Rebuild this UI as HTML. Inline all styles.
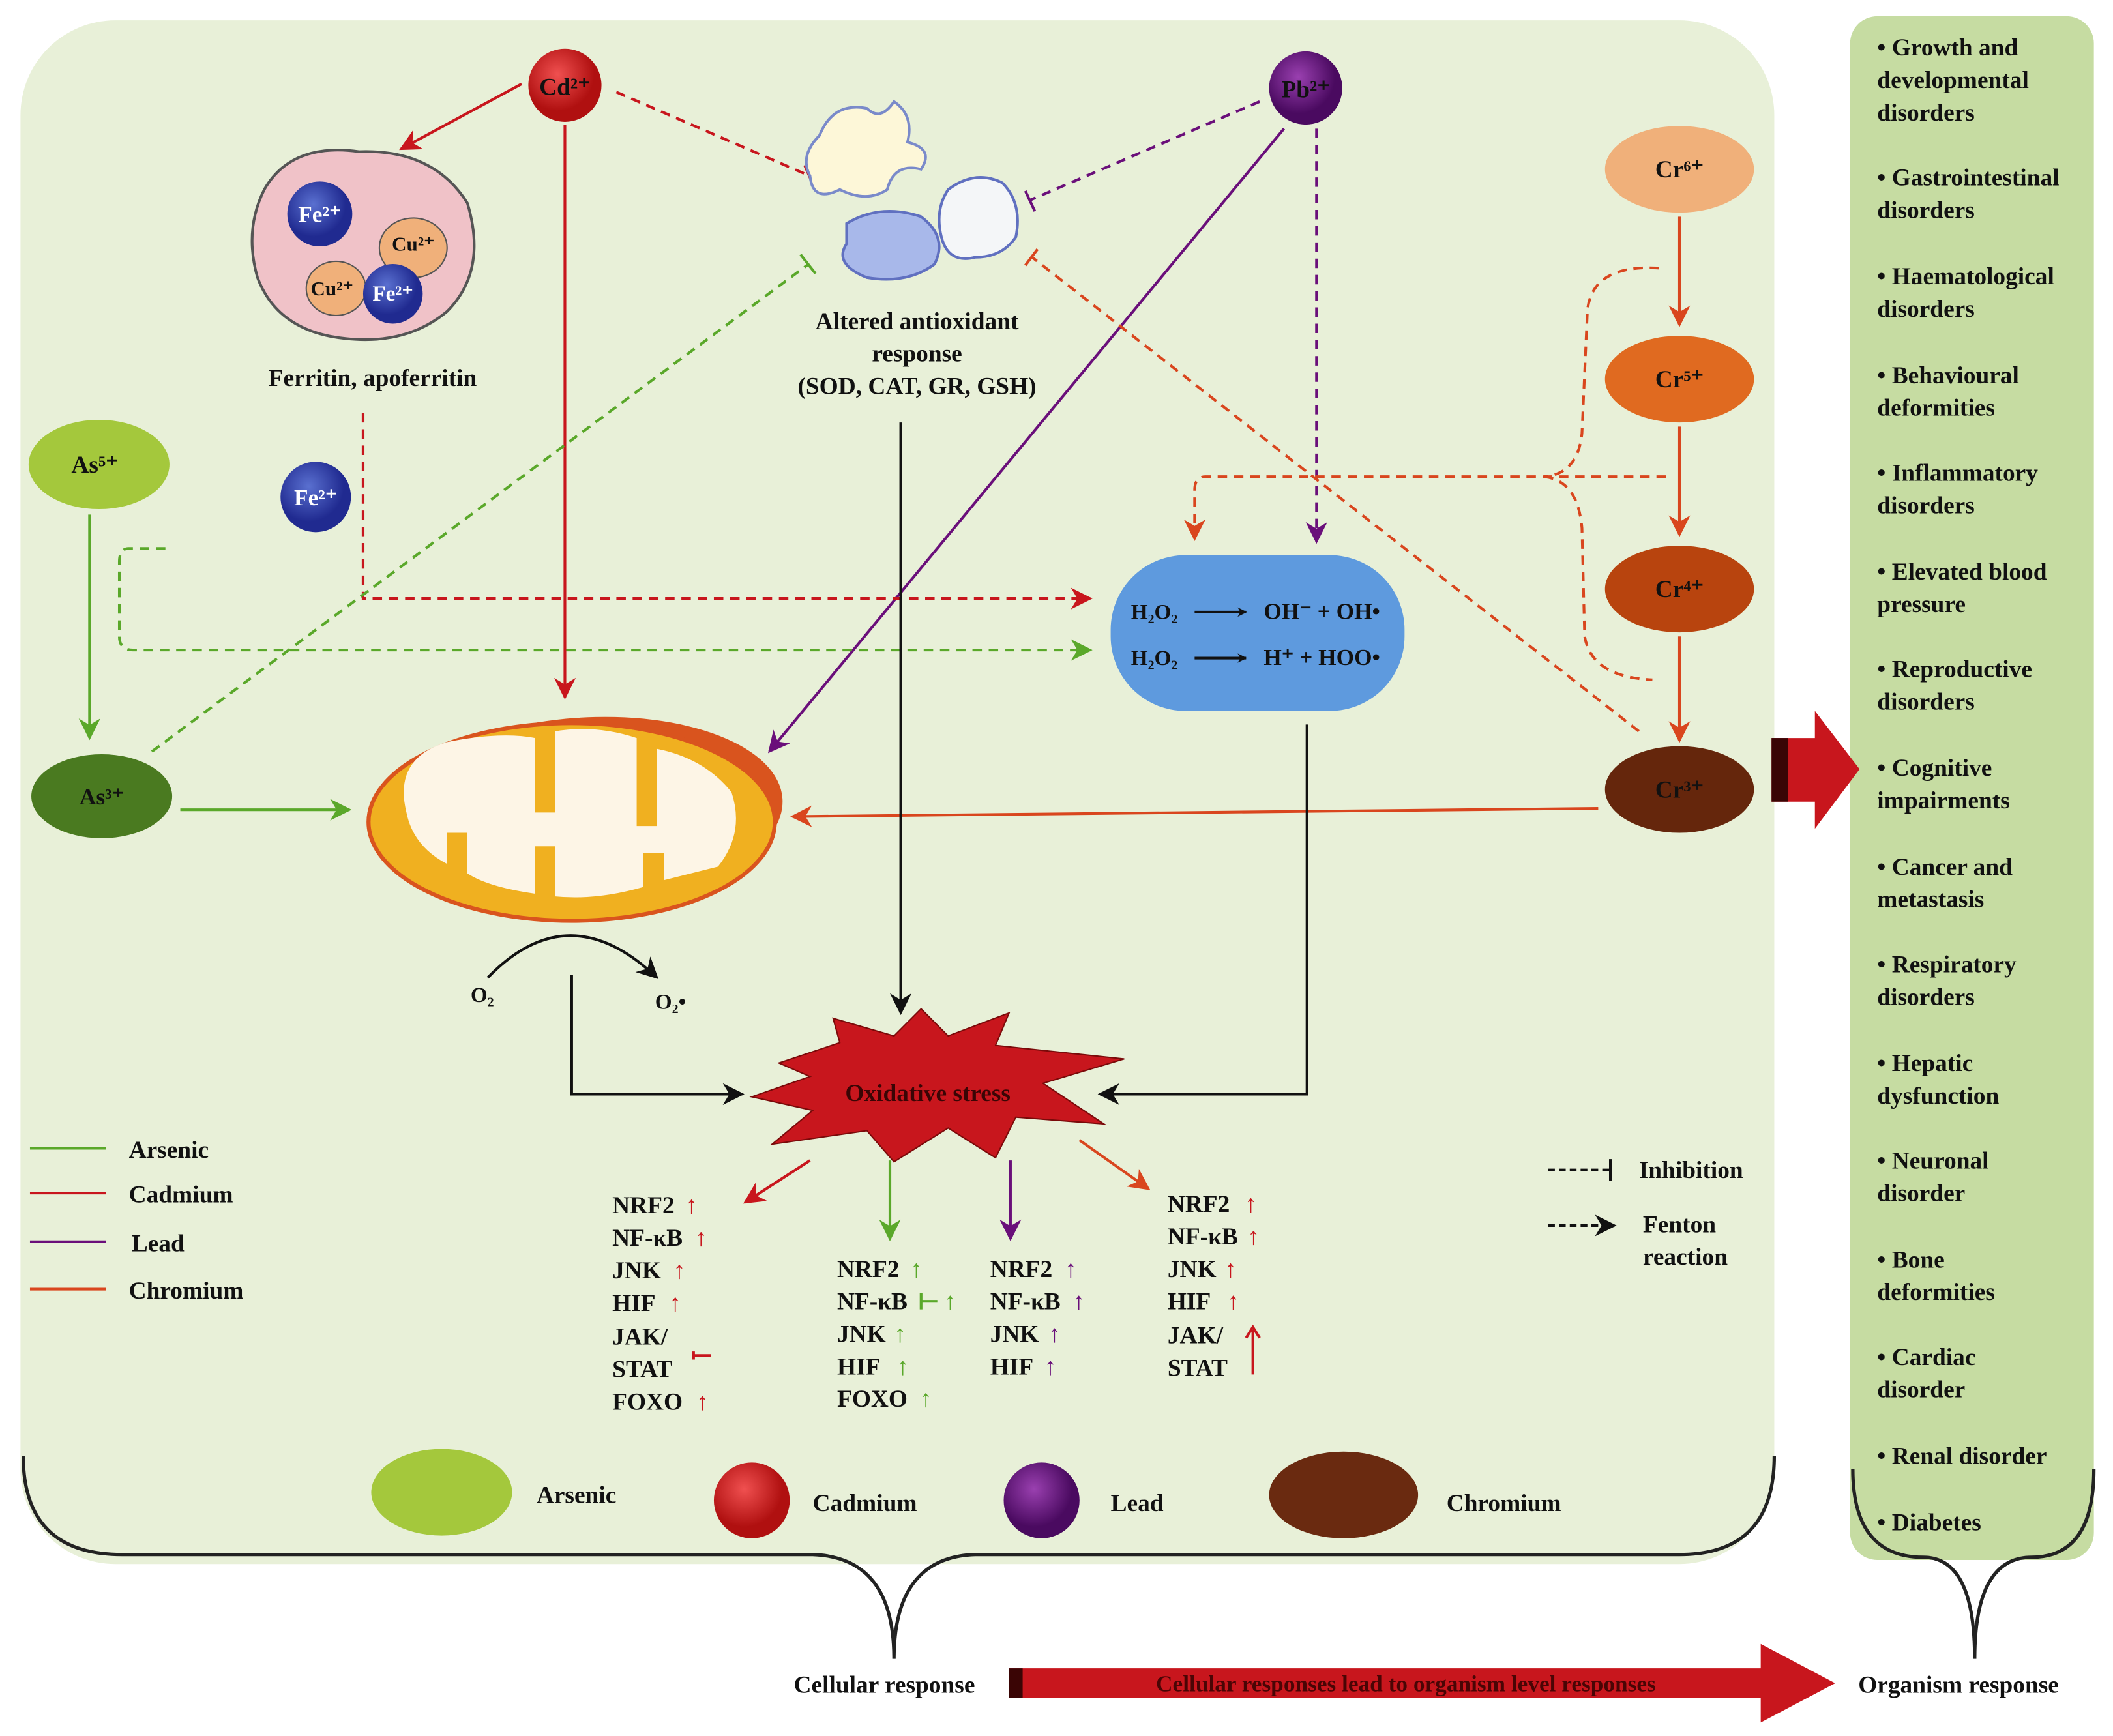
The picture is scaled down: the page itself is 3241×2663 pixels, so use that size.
<!DOCTYPE html>
<html><head><meta charset="utf-8"><style>
html,body{margin:0;padding:0;background:#fff}
svg{display:block}
text{font-family:"Liberation Serif",serif;font-weight:bold;fill:#111}
</style></head><body>
<svg width="3241" height="2663" viewBox="0 0 1560 1282" xmlns="http://www.w3.org/2000/svg">
<defs>
<marker id="mk" viewBox="0 0 10 10" refX="9" refY="5" markerWidth="7" markerHeight="7" orient="auto-start-reverse" markerUnits="userSpaceOnUse"><path d="M0,0 L10,5 L0,10 L3,5z" fill="#111"/></marker>
<marker id="mr" viewBox="0 0 10 10" refX="9" refY="5" markerWidth="22" markerHeight="16" orient="auto" markerUnits="userSpaceOnUse"><path d="M0,0 L10,5 L0,10 L3,5z" fill="#c8161d"/></marker>
<marker id="mg" viewBox="0 0 10 10" refX="9" refY="5" markerWidth="22" markerHeight="16" orient="auto" markerUnits="userSpaceOnUse"><path d="M0,0 L10,5 L0,10 L3,5z" fill="#5aa82a"/></marker>
<marker id="mp" viewBox="0 0 10 10" refX="9" refY="5" markerWidth="22" markerHeight="16" orient="auto" markerUnits="userSpaceOnUse"><path d="M0,0 L10,5 L0,10 L3,5z" fill="#6a0f7a"/></marker>
<marker id="mo" viewBox="0 0 10 10" refX="9" refY="5" markerWidth="22" markerHeight="16" orient="auto" markerUnits="userSpaceOnUse"><path d="M0,0 L10,5 L0,10 L3,5z" fill="#d9461e"/></marker>
<marker id="mb" viewBox="0 0 10 10" refX="9" refY="5" markerWidth="22" markerHeight="16" orient="auto" markerUnits="userSpaceOnUse"><path d="M0,0 L10,5 L0,10 L3,5z" fill="#111"/></marker>
<radialGradient id="gcd" cx="40%" cy="35%"><stop offset="0" stop-color="#f05050"/><stop offset="1" stop-color="#b01010"/></radialGradient>
<radialGradient id="gpb" cx="40%" cy="35%"><stop offset="0" stop-color="#9a40b0"/><stop offset="1" stop-color="#4a0a60"/></radialGradient>
<radialGradient id="gfe" cx="40%" cy="35%"><stop offset="0" stop-color="#5a70d0"/><stop offset="1" stop-color="#202a90"/></radialGradient>
</defs>

<!-- main panel -->
<rect x="15" y="15" width="1295" height="1140" rx="70" fill="#e8f0d8"/>
<path d="M17,1075 Q17,1148 90,1148 L600,1148 Q660,1150 660,1225 Q660,1150 720,1148 L1240,1148 Q1310,1148 1310,1075" fill="none" stroke="#222" stroke-width="2.5"/>
<!-- right panel -->
<rect x="1366" y="12" width="180" height="1140" rx="20" fill="#c6dca2"/>
<path d="M1368,1085 Q1368,1150 1420,1150 Q1458,1150 1458,1225 Q1458,1150 1500,1150 Q1546,1150 1546,1085" fill="none" stroke="#222" stroke-width="2.5"/>

<!-- right panel text -->
<g font-size="18">
<text x="1386" y="41">• Growth and</text><text x="1386" y="65">developmental</text><text x="1386" y="89">disorders</text>
<text x="1386" y="137">• Gastrointestinal</text><text x="1386" y="161">disorders</text>
<text x="1386" y="210">• Haematological</text><text x="1386" y="234">disorders</text>
<text x="1386" y="283">• Behavioural</text><text x="1386" y="307">deformities</text>
<text x="1386" y="355">• Inflammatory</text><text x="1386" y="379">disorders</text>
<text x="1386" y="428">• Elevated blood</text><text x="1386" y="452">pressure</text>
<text x="1386" y="500">• Reproductive</text><text x="1386" y="524">disorders</text>
<text x="1386" y="573">• Cognitive</text><text x="1386" y="597">impairments</text>
<text x="1386" y="646">• Cancer and</text><text x="1386" y="670">metastasis</text>
<text x="1386" y="718">• Respiratory</text><text x="1386" y="742">disorders</text>
<text x="1386" y="791">• Hepatic</text><text x="1386" y="815">dysfunction</text>
<text x="1386" y="863">• Neuronal</text><text x="1386" y="887">disorder</text>
<text x="1386" y="936">• Bone</text><text x="1386" y="960">deformities</text>
<text x="1386" y="1008">• Cardiac</text><text x="1386" y="1032">disorder</text>
<text x="1386" y="1081">• Renal disorder</text>
<text x="1386" y="1130">• Diabetes</text>
</g>

<!-- big red arrow -->
<path d="M1308,545 L1340,545 L1340,525 L1373,568 L1340,612 L1340,592 L1308,592z" fill="#c8161d"/>
<rect x="1308" y="545" width="12" height="47" fill="#3a0505"/>

<!-- bottom -->
<text x="586" y="1250" font-size="18">Cellular response</text>
<path d="M745,1232 L1300,1232 L1300,1214 L1355,1243 L1300,1272 L1300,1254 L745,1254z" fill="#c8161d"/>
<rect x="745" y="1232" width="10" height="22" fill="#3a0505"/>
<text x="1038" y="1249" font-size="17" text-anchor="middle" fill="#5a0505" style="fill:#4a0505">Cellular responses lead to organism level responses</text>
<text x="1372" y="1250" font-size="18">Organism response</text>

<!-- connectors -->
<g fill="none" stroke-width="2">
<line x1="385" y1="62" x2="296" y2="110" stroke="#c8161d" marker-end="url(#mr)"/>
<line x1="455" y1="68" x2="598" y2="130" stroke="#c8161d" stroke-dasharray="7,5"/>
<line x1="594" y1="122" x2="601" y2="138" stroke="#c8161d"/>
<line x1="417" y1="92" x2="417" y2="515" stroke="#c8161d" marker-end="url(#mr)"/>
<line x1="930" y1="75" x2="760" y2="148" stroke="#6a0f7a" stroke-dasharray="7,5"/>
<line x1="757" y1="141" x2="764" y2="156" stroke="#6a0f7a"/>
<line x1="948" y1="95" x2="568" y2="555" stroke="#6a0f7a" marker-end="url(#mp)"/>
<line x1="972" y1="95" x2="972" y2="400" stroke="#6a0f7a" stroke-dasharray="7,5" marker-end="url(#mp)"/>
<polyline points="268,305 268,442 805,442" stroke="#c8161d" stroke-dasharray="7,5" marker-end="url(#mr)"/>
<path d="M122,405 L95,405 Q88,405 88,415 L88,470 Q88,480 98,480 L805,480" stroke="#5aa82a" stroke-dasharray="7,5" marker-end="url(#mg)"/>
<line x1="112" y1="555" x2="597" y2="195" stroke="#5aa82a" stroke-dasharray="7,5"/>
<line x1="591" y1="188" x2="602" y2="202" stroke="#5aa82a"/>
<line x1="66" y1="380" x2="66" y2="545" stroke="#5aa82a" marker-end="url(#mg)"/>
<line x1="133" y1="598" x2="258" y2="598" stroke="#5aa82a" marker-end="url(#mg)"/>
<line x1="1240" y1="160" x2="1240" y2="240" stroke="#d9461e" marker-end="url(#mo)"/>
<line x1="1240" y1="315" x2="1240" y2="395" stroke="#d9461e" marker-end="url(#mo)"/>
<line x1="1240" y1="470" x2="1240" y2="547" stroke="#d9461e" marker-end="url(#mo)"/>
<line x1="1180" y1="597" x2="585" y2="603" stroke="#d9461e" marker-end="url(#mo)"/>
<path d="M1225,198 Q1175,195 1172,230 L1168,320 Q1165,350 1140,352 M1230,352 L890,352 Q882,352 882,362 L882,398" stroke="#d9461e" stroke-dasharray="7,5" marker-end="url(#mo)"/>
<path d="M1140,352 Q1165,355 1168,390 L1170,470 Q1175,500 1220,502" stroke="#d9461e" stroke-dasharray="7,5"/>
<line x1="1210" y1="540" x2="762" y2="190" stroke="#d9461e" stroke-dasharray="7,5"/>
<line x1="757" y1="196" x2="766" y2="184" stroke="#d9461e"/>
<line x1="665" y1="312" x2="665" y2="748" stroke="#111" marker-end="url(#mb)"/>
<polyline points="965,535 965,808 812,808" stroke="#111" marker-end="url(#mb)"/>
<path d="M360,722 Q420,660 485,722" stroke="#111" marker-end="url(#mb)"/>
<polyline points="422,720 422,808 548,808" stroke="#111" marker-end="url(#mb)"/>
<line x1="598" y1="857" x2="550" y2="888" stroke="#c8161d" marker-end="url(#mr)"/>
<line x1="657" y1="857" x2="657" y2="915" stroke="#5aa82a" marker-end="url(#mg)"/>
<line x1="746" y1="857" x2="746" y2="915" stroke="#6a0f7a" marker-end="url(#mp)"/>
<line x1="797" y1="842" x2="848" y2="878" stroke="#d9461e" marker-end="url(#mo)"/>
</g>

<!-- ferritin -->
<path d="M195,140 Q215,105 265,112 Q320,110 345,150 Q360,200 330,230 Q300,255 255,250 Q205,245 190,205 Q180,170 195,140z" fill="#f0c2c8" stroke="#555" stroke-width="2"/>
<ellipse cx="305" cy="183" rx="25" ry="22" fill="#f0b07a" stroke="#555"/>
<ellipse cx="248" cy="213" rx="22" ry="20" fill="#f0b07a" stroke="#555"/>
<circle cx="236" cy="158" r="24" fill="url(#gfe)"/>
<circle cx="290" cy="217" r="22" fill="url(#gfe)"/>
<text x="236" y="164" font-size="17" text-anchor="middle" style="fill:#fff">Fe²⁺</text>
<text x="290" y="222" font-size="16" text-anchor="middle" style="fill:#fff">Fe²⁺</text>
<text x="305" y="185" font-size="15" text-anchor="middle">Cu²⁺</text>
<text x="245" y="218" font-size="15" text-anchor="middle">Cu²⁺</text>
<text x="275" y="285" font-size="18" text-anchor="middle">Ferritin, apoferritin</text>
<circle cx="233" cy="367" r="26" fill="url(#gfe)"/>
<text x="233" y="373" font-size="17" text-anchor="middle" style="fill:#fff">Fe²⁺</text>

<!-- antioxidant shapes -->
<path d="M605,100 Q615,75 640,80 Q650,90 660,75 Q675,85 670,105 Q690,110 680,125 Q660,120 655,140 Q640,150 620,140 Q600,150 598,130 Q590,115 605,100z" fill="#fdf7d8" stroke="#7a8aca" stroke-width="2"/>
<path d="M625,165 Q650,150 680,160 Q700,175 690,195 Q670,210 640,205 Q615,195 625,180z" fill="#a8b8ea" stroke="#6070c0" stroke-width="2"/>
<path d="M700,140 Q720,125 740,135 Q755,150 750,175 Q740,190 720,190 Q700,195 695,175 Q690,155 700,140z" fill="#f4f6f8" stroke="#6070c0" stroke-width="2"/>
<text x="677" y="243" font-size="18" text-anchor="middle">Altered antioxidant</text>
<text x="677" y="267" font-size="18" text-anchor="middle">response</text>
<text x="677" y="291" font-size="18" text-anchor="middle">(SOD, CAT, GR, GSH)</text>

<!-- ions -->
<circle cx="417" cy="63" r="27" fill="url(#gcd)"/>
<text x="417" y="70" font-size="18" text-anchor="middle">Cd²⁺</text>
<circle cx="964" cy="65" r="27" fill="url(#gpb)"/>
<text x="964" y="72" font-size="18" text-anchor="middle">Pb²⁺</text>
<ellipse cx="1240" cy="125" rx="55" ry="32" fill="#f0b07a"/><text x="1240" y="131" font-size="18" text-anchor="middle">Cr⁶⁺</text>
<ellipse cx="1240" cy="280" rx="55" ry="32" fill="#e06a20"/><text x="1240" y="286" font-size="18" text-anchor="middle">Cr⁵⁺</text>
<ellipse cx="1240" cy="435" rx="55" ry="32" fill="#b8440e"/><text x="1240" y="441" font-size="18" text-anchor="middle">Cr⁴⁺</text>
<ellipse cx="1240" cy="583" rx="55" ry="32" fill="#65260c"/><text x="1240" y="589" font-size="18" text-anchor="middle">Cr³⁺</text>
<ellipse cx="73" cy="343" rx="52" ry="33" fill="#a4c83c"/><text x="70" y="349" font-size="18" text-anchor="middle">As⁵⁺</text>
<ellipse cx="75" cy="588" rx="52" ry="31" fill="#4a7a20"/><text x="75" y="594" font-size="17" text-anchor="middle">As³⁺</text>

<!-- blue Fenton box -->
<rect x="820" y="410" width="217" height="115" rx="55" fill="#5e9ade"/>
<text x="835" y="457" font-size="16">H₂O₂</text>
<text x="835" y="491" font-size="16">H₂O₂</text>
<line x1="882" y1="452" x2="920" y2="452" stroke="#111" stroke-width="2" marker-end="url(#mk)"/>
<line x1="882" y1="486" x2="920" y2="486" stroke="#111" stroke-width="2" marker-end="url(#mk)"/>
<text x="933" y="457" font-size="17">OH⁻ + OH•</text>
<text x="933" y="491" font-size="17">H⁺ + HOO•</text>

<!-- mitochondrion -->
<ellipse cx="430" cy="600" rx="148" ry="70" fill="#d9541e" transform="rotate(-4 430 600)"/>
<ellipse cx="422" cy="607" rx="150" ry="73" fill="#f0b020" stroke="#d9541e" stroke-width="3"/>
<path d="M300,600 Q290,560 330,548 Q370,540 395,545 L395,600 L410,600 L410,540 Q440,535 470,545 L470,610 L485,610 L485,553 Q520,560 540,585 Q550,615 530,640 L490,650 L490,630 L475,630 L475,655 Q440,665 410,662 L410,625 L395,625 L395,660 Q360,655 345,645 L345,615 L330,615 L330,638 Q305,625 300,600z" fill="#fdf5e6"/>

<text x="356" y="740" font-size="16" text-anchor="middle">O₂</text>
<text x="495" y="745" font-size="16" text-anchor="middle">O₂•</text>

<!-- oxidative stress star -->
<path d="M575,785 L620,770 L615,752 L660,765 L680,745 L700,765 L745,748 L735,772 L830,782 L770,800 L815,830 L750,825 L735,855 L700,833 L660,858 L640,835 L570,845 L600,820 L555,810 L598,795z" fill="#c8161d" stroke="#7a0a0a"/>
<text x="685" y="813" font-size="18" text-anchor="middle" style="fill:#3a0505">Oxidative stress</text>

<!-- gene lists -->
<g font-size="18">
<text x="452" y="896">NRF2</text><text x="452" y="920">NF-κB</text><text x="452" y="944">JNK</text><text x="452" y="968">HIF</text><text x="452" y="993">JAK/</text><text x="452" y="1017">STAT</text><text x="452" y="1041">FOXO</text>
<text x="618" y="943">NRF2</text><text x="618" y="967">NF-κB</text><text x="618" y="991">JNK</text><text x="618" y="1015">HIF</text><text x="618" y="1039">FOXO</text>
<text x="731" y="943">NRF2</text><text x="731" y="967">NF-κB</text><text x="731" y="991">JNK</text><text x="731" y="1015">HIF</text>
<text x="862" y="895">NRF2</text><text x="862" y="919">NF-κB</text><text x="862" y="943">JNK</text><text x="862" y="967">HIF</text><text x="862" y="992">JAK/</text><text x="862" y="1016">STAT</text>
</g>
<g font-size="18" style="fill:#c8161d">
<text x="506" y="896" style="fill:#c8161d">↑</text><text x="513" y="920" style="fill:#c8161d">↑</text><text x="497" y="944" style="fill:#c8161d">↑</text><text x="494" y="968" style="fill:#c8161d">↑</text><text x="514" y="1041" style="fill:#c8161d">↑</text>
<text x="672" y="943" style="fill:#5aa82a">↑</text><text x="697" y="967" style="fill:#5aa82a">↑</text><text x="660" y="991" style="fill:#5aa82a">↑</text><text x="662" y="1015" style="fill:#5aa82a">↑</text><text x="679" y="1039" style="fill:#5aa82a">↑</text>
<text x="786" y="943" style="fill:#6a0f7a">↑</text><text x="792" y="967" style="fill:#6a0f7a">↑</text><text x="774" y="991" style="fill:#6a0f7a">↑</text><text x="771" y="1015" style="fill:#6a0f7a">↑</text>
<text x="919" y="895" style="fill:#c8161d">↑</text><text x="921" y="919" style="fill:#c8161d">↑</text><text x="904" y="943" style="fill:#c8161d">↑</text><text x="906" y="967" style="fill:#c8161d">↑</text>
</g>
<g stroke-width="2" fill="none">
<path d="M512,998 L512,1004 M512,1001 L525,1001" stroke="#c8161d"/>
<path d="M680,955 L680,967 M680,961 L692,961" stroke="#5aa82a"/>
<line x1="925" y1="1015" x2="925" y2="982" stroke="#c8161d"/>
<path d="M920,988 L925,980 L930,988" stroke="#c8161d"/>
</g>

<!-- legend left -->
<g stroke-width="2">
<line x1="22" y1="848" x2="78" y2="848" stroke="#5aa82a"/>
<line x1="22" y1="881" x2="78" y2="881" stroke="#c8161d"/>
<line x1="22" y1="917" x2="78" y2="917" stroke="#6a0f7a"/>
<line x1="22" y1="952" x2="78" y2="952" stroke="#d9461e"/>
</g>
<g font-size="18"><text x="95" y="855">Arsenic</text><text x="95" y="888">Cadmium</text><text x="97" y="924">Lead</text><text x="95" y="959">Chromium</text></g>

<!-- legend right -->
<line x1="1143" y1="864" x2="1188" y2="864" stroke="#111" stroke-width="2" stroke-dasharray="5,3"/>
<line x1="1189" y1="856" x2="1189" y2="872" stroke="#111" stroke-width="2"/>
<text x="1210" y="870" font-size="18">Inhibition</text>
<line x1="1143" y1="905" x2="1192" y2="905" stroke="#111" stroke-width="2" stroke-dasharray="5,3" marker-end="url(#mb)"/>
<text x="1213" y="910" font-size="18">Fenton</text><text x="1213" y="934" font-size="18">reaction</text>

<!-- bottom legend -->
<ellipse cx="326" cy="1102" rx="52" ry="32" fill="#a4c83c"/>
<text x="396" y="1110" font-size="18">Arsenic</text>
<circle cx="555" cy="1108" r="28" fill="url(#gcd)"/>
<text x="600" y="1116" font-size="18">Cadmium</text>
<circle cx="769" cy="1108" r="28" fill="url(#gpb)"/>
<text x="820" y="1116" font-size="18">Lead</text>
<ellipse cx="992" cy="1104" rx="55" ry="32" fill="#6a2a10"/>
<text x="1068" y="1116" font-size="18">Chromium</text>
</svg>
</body></html>
